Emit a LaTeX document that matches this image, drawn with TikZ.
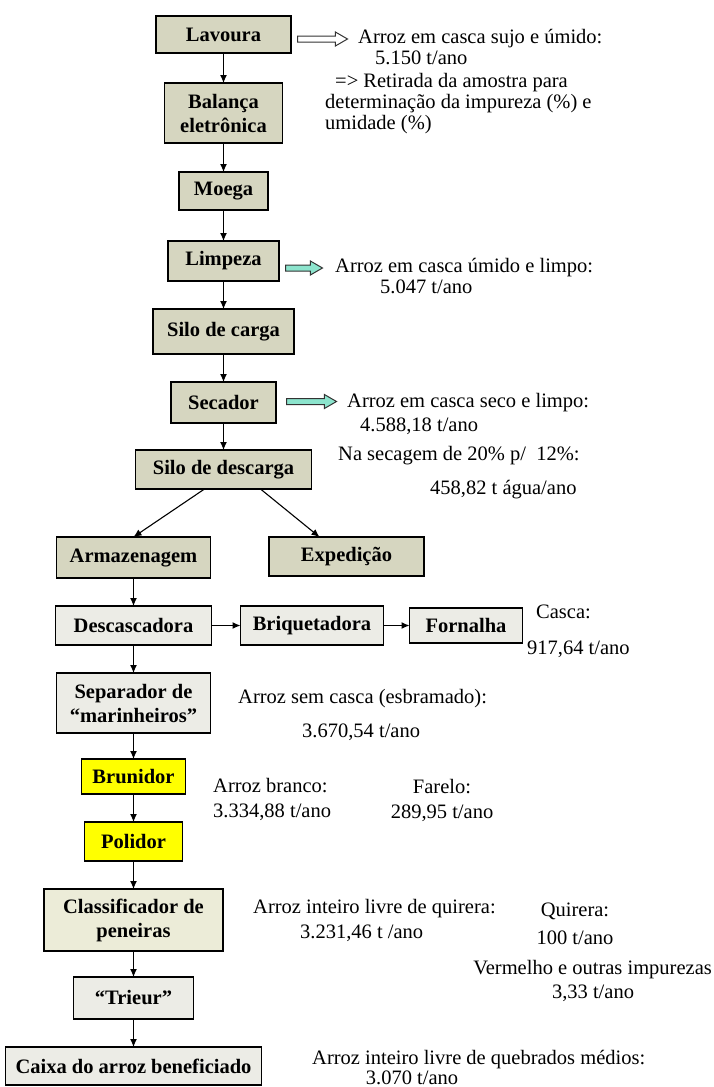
\documentclass[tikz,border=0pt]{standalone}
\usepackage{fontspec}
\setmainfont{Liberation Serif}
\usetikzlibrary{shapes, arrows.meta, positioning}

\definecolor{caqui}{RGB}{214,214,192}
\definecolor{cinzaclaro}{RGB}{236,236,230}
\definecolor{bege}{RGB}{236,236,216}
\definecolor{amarelo}{RGB}{255,255,0}
\definecolor{verdeagua}{RGB}{140,228,205}

\begin{document}
\begin{tikzpicture}[
        x=1pt, y=-1pt,
        node distance=28pt,
        etapa/.style={
            rectangle,
            draw,
            line width=1.1pt,
            outer sep=0pt,
            fill=caqui,
            font=\fontsize{20.5}{24}\selectfont\bfseries,
            align=center,
            inner sep=2pt
        },
        etapaclara/.style={
            etapa,
            fill=cinzaclaro
        },
        polimento/.style={
            etapa,
            fill=amarelo
        },
        nota/.style={
            font=\fontsize{20.5}{23}\selectfont,
            inner sep=0pt,
            anchor=west
        },
        notac/.style={
            nota,
            anchor=center
        },
        line/.style={
            draw,
            line width=1.1pt,
            -{Latex[length=8pt,width=7pt]}
        },
        seta/.style={
            single arrow,
            draw=black!80,
            line width=1pt,
            minimum height=50pt,
            minimum width=13pt,
            single arrow head extend=4pt,
            single arrow tip angle=60,
            inner sep=2.5pt,
            anchor=tail
        }
    ]
        \useasboundingbox (0,0) rectangle (713,1087);

        % Nodes
        \node [etapa, minimum width=135pt, minimum height=37pt] (lavoura) at (223.5,34.5) {Lavoura};
        \node [etapa, below=30pt of lavoura, minimum width=118pt, minimum height=60pt] (balanca) {Balança\\eletrônica};
        \node [etapa, below=29pt of balanca, minimum width=89pt, minimum height=38pt] (moega) {Moega};
        \node [etapa, below=31pt of moega, minimum width=111pt, minimum height=40pt] (limpeza) {Limpeza};
        \node [etapa, below=of limpeza, minimum width=141pt, minimum height=45pt] (silocarga) {Silo de carga};
        \node [etapa, below=of silocarga, minimum width=105pt, minimum height=41pt] (secador) {Secador};
        \node [etapa, below=27pt of secador, minimum width=176pt, minimum height=39pt] (silodesc) {Silo de descarga};
        \node [etapa, below=48pt of silodesc, xshift=-90pt, minimum width=154pt, minimum height=41pt] (armazenagem) {Armazenagem};
        \node [etapa, below=48pt of silodesc, xshift=123pt, minimum width=155pt, minimum height=39pt] (expedicao) {Expedição};
        \node [etapaclara, below=of armazenagem, minimum width=156pt, minimum height=39pt] (descascadora) {Descascadora};
        \node [etapaclara, right=29pt of descascadora, minimum width=143pt, minimum height=39pt] (briquetadora) {Briquetadora};
        \node [etapaclara, right=26pt of briquetadora, minimum width=113pt, minimum height=35pt] (fornalha) {Fornalha};
        \node [etapaclara, below=of descascadora, minimum width=154pt, minimum height=60pt] (separador) {Separador de\\“marinheiros”};
        \node [polimento, below=26pt of separador, minimum width=104pt, minimum height=35pt] (brunidor) {Brunidor};
        \node [polimento, below=of brunidor, minimum width=98pt, minimum height=39pt] (polidor) {Polidor};
        \node [etapa, fill=bege, below=of polidor, minimum width=179pt, minimum height=62pt] (classificador) {Classificador de\\peneiras};
        \node [etapaclara, below=26pt of classificador, minimum width=120pt, minimum height=42pt] (trieur) {“Trieur”};
        \node [etapaclara, below=of trieur, minimum width=256pt, minimum height=38pt] (caixa) {Caixa do arroz beneficiado};

        % Side arrows
        \node [seta, fill=white] (setalavoura) at ([xshift=6pt,yshift=-4.5pt]lavoura.east) {};
        \node [seta, fill=verdeagua, minimum height=37pt] (setalimpeza) at ([xshift=6pt,yshift=-7pt]limpeza.east) {};
        \node [seta, fill=verdeagua] (setasecador) at ([xshift=10pt,yshift=1pt]secador.east) {};

        % Notes
        \node [nota] (n1) at (358,39) {Arroz em casca sujo e úmido:};
        \node [nota] (n2) at (375,58) {5.150 t/ano};
        \node [nota] (n3) at (335,83) {=> Retirada da amostra para};
        \node [nota] (n4) at (325,104) {determinação da impureza (\%) e};
        \node [nota] (n5) at (325,125) {umidade (\%)};
        \node [nota] (n6) at (335,268) {Arroz em casca úmido e limpo:};
        \node [nota] (n7) at (380,287) {5.047 t/ano};
        \node [nota] (n8) at (347,403) {Arroz em casca seco e limpo:};
        \node [nota] (n9) at (360,426) {4.588,18 t/ano};
        \node [nota] (n10) at (338,456) {Na secagem de 20\% p/\ \ 12\%:};
        \node [nota] (n11) at (430,490) {458,82 t água/ano};
        \node [nota] (n12) at (536,612) {Casca:};
        \node [nota] (n13) at (527,649) {917,64 t/ano};
        \node [nota] (n14) at (238,699) {Arroz sem casca (esbramado):};
        \node [nota] (n15) at (302,732) {3.670,54 t/ano};
        \node [nota] (n16) at (213,786) {Arroz branco:};
        \node [nota] (n17) at (213,812) {3.334,88 t/ano};
        \node [notac] (n18) at (442,787) {Farelo:};
        \node [notac] (n19) at (442,813) {289,95 t/ano};
        \node [nota] (n20) at (253,909) {Arroz inteiro livre de quirera:};
        \node [nota] (n21) at (300,933) {3.231,46 t /ano};
        \node [notac] (n22) at (575,911) {Quirera:};
        \node [notac] (n23) at (575,938) {100 t/ano};
        \node [nota, anchor=east] (n24) at (712,970) {Vermelho e outras impurezas};
        \node [notac] (n25) at (593,993) {3,33 t/ano};
        \node [nota] (n26) at (312,1060) {Arroz inteiro livre de quebrados médios:};
        \node [notac] (n27) at (412,1078) {3.070 t/ano};

        % Paths
        \path [line] (lavoura) -- (balanca);
        \path [line] (balanca) -- (moega);
        \path [line] (moega) -- (limpeza);
        \path [line] (limpeza) -- (silocarga);
        \path [line] (silocarga) -- (secador);
        \path [line] (secador) -- (silodesc);
        \path [line] ([xshift=-19pt]silodesc.south) -- (armazenagem.north);
        \path [line] ([xshift=37pt]silodesc.south) -- ([xshift=-27pt]expedicao.north);
        \path [line] (armazenagem) -- (descascadora);
        \path [line] (descascadora) -- (briquetadora);
        \path [line] (briquetadora) -- (fornalha);
        \path [line] (descascadora) -- (separador);
        \path [line] (separador) -- (brunidor);
        \path [line] (brunidor) -- (polidor);
        \path [line] (polidor) -- (classificador);
        \path [line] (classificador) -- (trieur);
        \path [line] (trieur) -- (caixa);

    \end{tikzpicture}
\end{document}
